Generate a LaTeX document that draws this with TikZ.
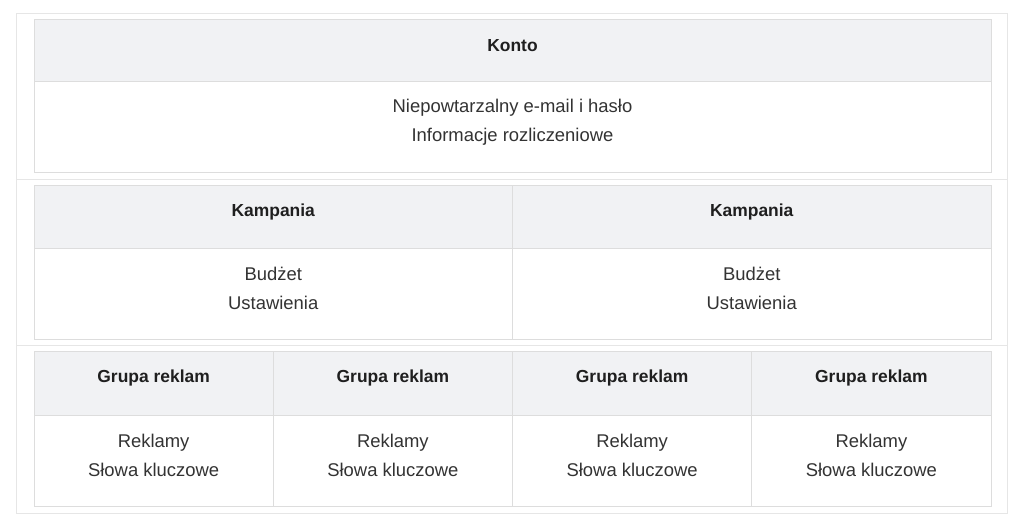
\documentclass[tikz,border=0pt]{standalone}
\usepackage{fontspec}
\setmainfont{Liberation Sans}
\usetikzlibrary{calc}
\definecolor{framegray}{HTML}{E6E6E6}
\definecolor{linegray}{HTML}{DDDDDD}
\definecolor{hdrgray}{HTML}{F1F2F4}
\definecolor{txtgray}{HTML}{333333}
\tikzset{
	cell/.style={draw=linegray, line width=1bp, inner sep=0pt, outer sep=0pt,
			anchor=north west, minimum width=#1},
	hdrcell/.style={cell=#1, fill=hdrgray, minimum height=63bp},
	bodycell/.style={cell=#1, fill=white},
	hdrtext/.style={font=\fontsize{17.5}{29}\selectfont\bfseries, text=black!88, align=center},
	bodytext/.style={font=\fontsize{18.5}{29}\selectfont, text=txtgray, align=center}
}
\begin{document}
\begin{tikzpicture}[x=1bp, y=-1bp]
	\useasboundingbox (0,0) rectangle (1024,531);
	% outer frame with row separators
	\draw[framegray, line width=1bp] (16,14) rectangle (1007,513);
	\draw[framegray, line width=1bp] (16,180) -- (1007,180);
	\draw[framegray, line width=1bp] (16,346) -- (1007,346);

	% account
	\node[hdrcell=957bp] (kontoH) at (34,20) {};
	\node[bodycell=957bp, minimum height=91bp] (kontoB) at (34,82) {};
	\node[hdrtext] (kontoT) at ($(kontoH.center)+(0,-6)$) {Konto};
	\node[bodytext] (kontoL) at ($(kontoB.center)+(0,-5.5)$)
	{Niepowtarzalny e-mail i hasło\\Informacje rozliczeniowe};

	% campaigns
	\foreach \i in {0,1} {
			\node[hdrcell=478.5bp] (kampH\i) at (34+478.5*\i,186) {};
			\node[bodycell=478.5bp, minimum height=90bp] (kampB\i) at (34+478.5*\i,249) {};
			\node[hdrtext] (kampT\i) at ($(kampH\i.center)+(0,-6)$) {Kampania};
			\node[bodytext] (kampL\i) at ($(kampB\i.center)+(0,-5.5)$) {Budżet\\Ustawienia};
		}

	% ad groups
	\foreach \i in {0,...,3} {
			\node[hdrcell=239.25bp] (grupaH\i) at (34+239.25*\i,352) {};
			\node[bodycell=239.25bp, minimum height=91bp] (grupaB\i) at (34+239.25*\i,415) {};
			\node[hdrtext] (grupaT\i) at ($(grupaH\i.center)+(0,-6)$) {Grupa reklam};
			\node[bodytext] (grupaL\i) at ($(grupaB\i.center)+(0,-5.5)$) {Reklamy\\Słowa kluczowe};
		}
\end{tikzpicture}
\end{document}
